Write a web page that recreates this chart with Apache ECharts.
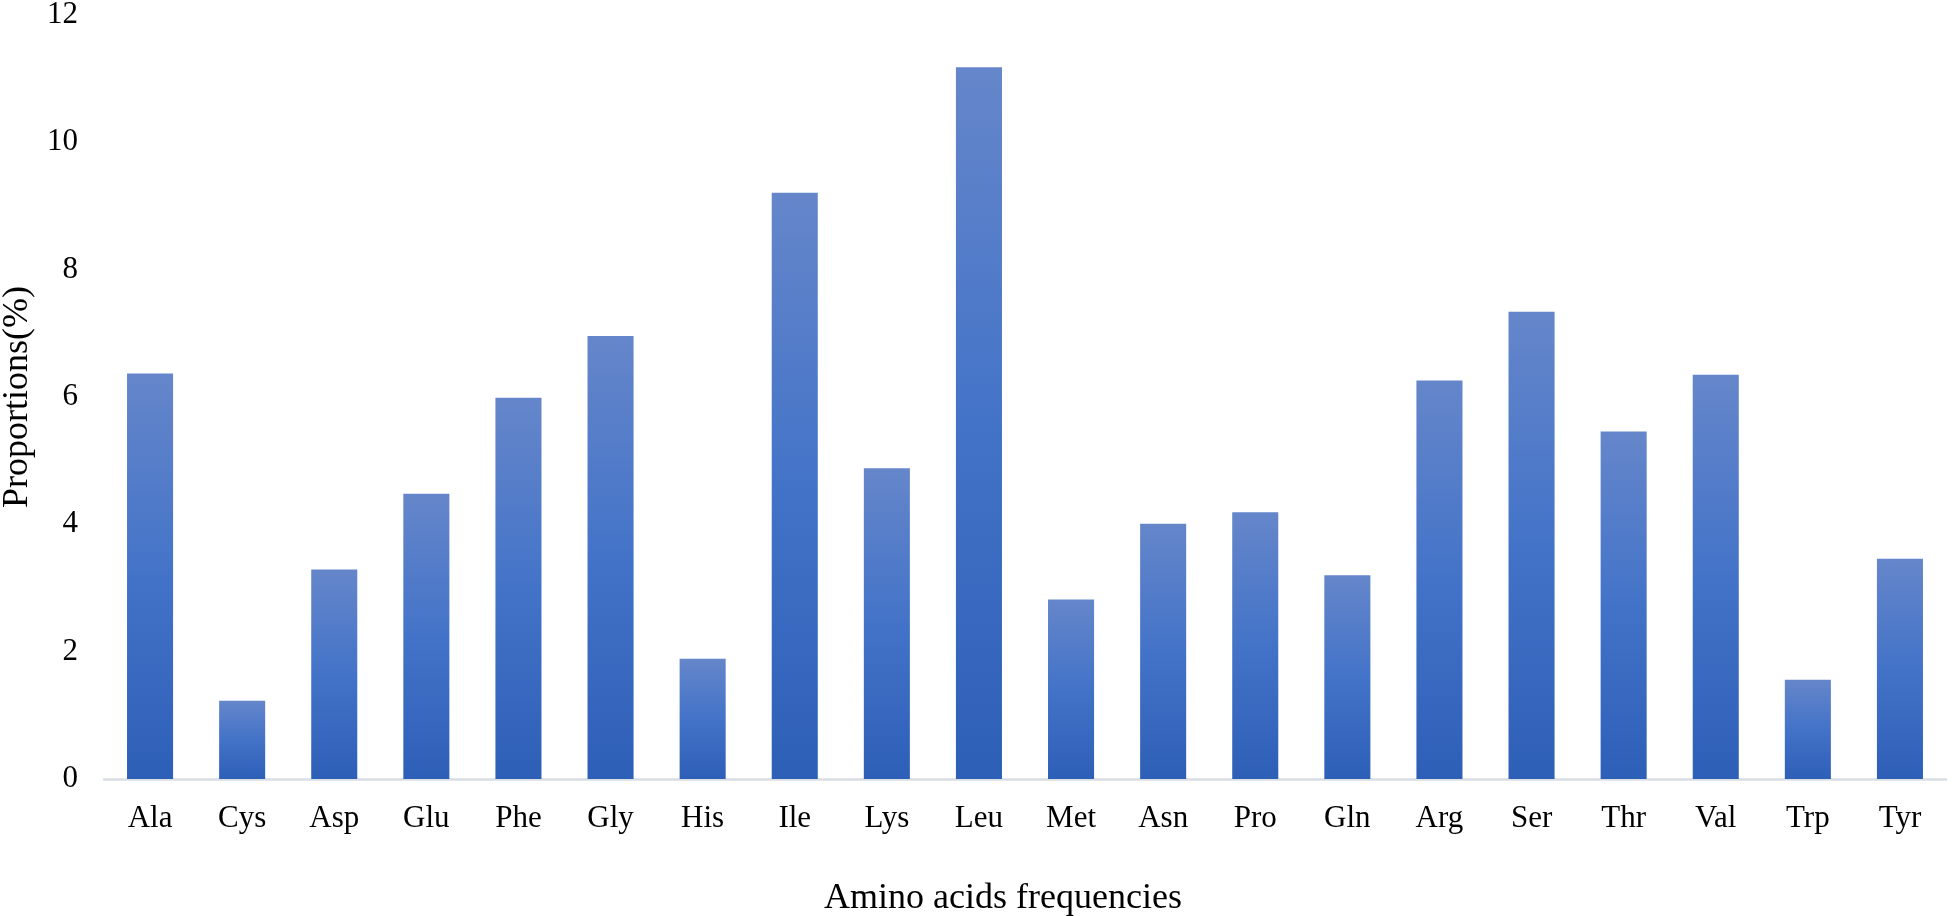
<!DOCTYPE html>
<html>
<head>
<meta charset="utf-8">
<script src="https://cdn.jsdelivr.net/npm/echarts@6/dist/echarts.min.js"></script>
<style>
html,body{margin:0;padding:0;background:#fff;}
#chart{width:1952px;height:916px;}
</style>
</head>
<body>
<div id="chart"></div>
<script>
const categories = ['Ala','Cys','Asp','Glu','Phe','Gly','His','Ile','Lys','Leu','Met','Asn','Pro','Gln','Arg','Ser','Thr','Val','Trp','Tyr'];
const proportions = [6.37, 1.23, 3.29, 4.48, 5.99, 6.96, 1.89, 9.21, 4.88, 11.18, 2.82, 4.01, 4.19, 3.20, 6.26, 7.34, 5.46, 6.35, 1.56, 3.46];
const yTicks = { min: 0, max: 12, interval: 2 };
const xTitle = 'Amino acids frequencies';
const yTitle = 'Proportions(%)';

const FONT = '"Liberation Serif", "Times New Roman", serif';
const chart = echarts.init(document.getElementById('chart'));
chart.setOption({
  animation: false,
  backgroundColor: '#ffffff',
  grid: { left: 104, right: 6, top: 15, bottom: 137, containLabel: false, outerBoundsMode: 'none' },
  xAxis: {
    type: 'category',
    data: categories,
    name: xTitle,
    nameLocation: 'middle',
    nameGap: 102,
    nameTextStyle: { fontFamily: FONT, fontSize: 36, color: '#000', padding: [0, 44, 0, 0] },
    axisLine: { show: true, lineStyle: { color: '#d9dde4', width: 2.5 } },
    axisTick: { show: false },
    axisLabel: { fontFamily: FONT, fontSize: 31, color: '#000', margin: 24 },
    splitLine: { show: false }
  },
  yAxis: {
    type: 'value',
    min: yTicks.min,
    max: yTicks.max,
    interval: yTicks.interval,
    name: yTitle,
    nameLocation: 'middle',
    nameGap: 68,
    nameRotate: 90,
    nameTextStyle: { fontFamily: FONT, fontSize: 36, color: '#000' },
    axisLine: { show: false },
    axisTick: { show: false },
    splitLine: { show: false },
    axisLabel: { fontFamily: FONT, fontSize: 31, color: '#000', margin: 26, padding: [5, 0, 0, 0] }
  },
  series: [{
    type: 'bar',
    data: proportions,
    barCategoryGap: '50%',
    itemStyle: {
      color: new echarts.graphic.LinearGradient(0, 0, 0, 1, [
        { offset: 0, color: '#6586ca' },
        { offset: 0.5, color: '#4373c8' },
        { offset: 1, color: '#2e5fb7' }
      ])
    }
  }]
});
</script>
</body>
</html>
